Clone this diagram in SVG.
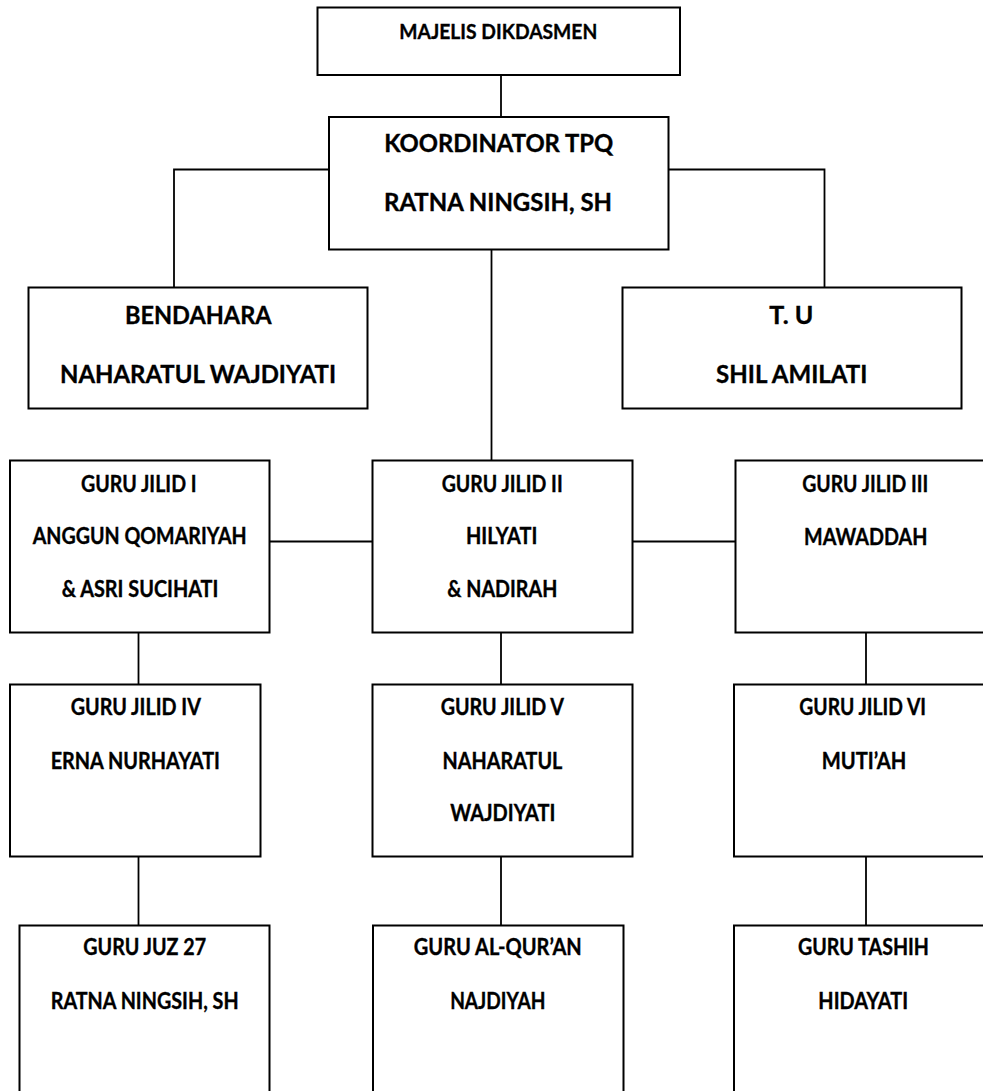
<svg xmlns="http://www.w3.org/2000/svg" width="983" height="1091" viewBox="0 0 983 1091">
<style>
.box{fill:#fff;stroke:#000;stroke-width:2}
.con{fill:none;stroke:#000;stroke-width:1.8}
text{font-family:Lato,"Liberation Sans",sans-serif;font-weight:bold;fill:#000;stroke:#000;stroke-width:0.35;text-anchor:middle}
.s{font-size:22px}
.m{font-size:20.5px}
.k{font-size:24px}
.b{font-size:25.5px}
</style>
<rect width="983" height="1091" fill="#fff"/>
<g id="connectors">
<line class="con" x1="501" y1="75" x2="501" y2="117"/>
<polyline class="con" points="329,169.5 174,169.5 174,287.5"/>
<polyline class="con" points="668.5,169.5 824.5,169.5 824.5,287.5"/>
<line class="con" x1="491.5" y1="249.5" x2="491.5" y2="460.5"/>
<line class="con" x1="269.5" y1="541.5" x2="372.5" y2="541.5" stroke-width="2"/>
<line class="con" x1="632.5" y1="541.5" x2="735.5" y2="541.5" stroke-width="2"/>
<line class="con" x1="138.5" y1="632.5" x2="138.5" y2="684.5"/>
<line class="con" x1="501" y1="632.5" x2="501" y2="684.5"/>
<line class="con" x1="866" y1="632.5" x2="866" y2="684.5"/>
<line class="con" x1="138.5" y1="856.5" x2="138.5" y2="925.5"/>
<line class="con" x1="501" y1="856.5" x2="501" y2="925.5"/>
<line class="con" x1="866" y1="856.5" x2="866" y2="925.5"/>
</g>
<g id="majelis">
<rect class="box" x="317.5" y="7.5" width="362.5" height="67.5"/>
<text class="m" x="498.3" y="39" textLength="198" lengthAdjust="spacingAndGlyphs">MAJELIS DIKDASMEN</text>
</g>
<g id="koordinator">
<rect class="box" x="329" y="117" width="339.5" height="132.5"/>
<text class="k" x="498.7" y="152" textLength="229" lengthAdjust="spacingAndGlyphs">KOORDINATOR TPQ</text>
<text class="k" x="498" y="211" textLength="228" lengthAdjust="spacingAndGlyphs">RATNA NINGSIH, SH</text>
</g>
<g id="bendahara">
<rect class="box" x="28.5" y="287.5" width="339" height="121"/>
<text class="b" x="198.3" y="324" textLength="146.7" lengthAdjust="spacingAndGlyphs">BENDAHARA</text>
<text class="b" x="198" y="383" textLength="276" lengthAdjust="spacingAndGlyphs">NAHARATUL WAJDIYATI</text>
</g>
<g id="tu">
<rect class="box" x="622.5" y="287.5" width="339" height="121"/>
<text class="b" x="791.3" y="324" textLength="44" lengthAdjust="spacingAndGlyphs">T. U</text>
<text class="b" x="791.7" y="383" textLength="151.3" lengthAdjust="spacingAndGlyphs">SHIL AMILATI</text>
</g>
<g id="jilid1">
<rect class="box" x="10" y="460.5" width="259.5" height="172"/>
<text class="s" x="138.8" y="491.5" textLength="115.7" lengthAdjust="spacingAndGlyphs">GURU JILID I</text>
<text class="s" x="139.7" y="544" textLength="214" lengthAdjust="spacingAndGlyphs">ANGGUN QOMARIYAH</text>
<text class="s" x="140" y="596.5" textLength="156.7" lengthAdjust="spacingAndGlyphs">&amp; ASRI SUCIHATI</text>
</g>
<g id="jilid2">
<rect class="box" x="372.5" y="460.5" width="260" height="172"/>
<text class="s" x="502.2" y="491.5" textLength="121" lengthAdjust="spacingAndGlyphs">GURU JILID II</text>
<text class="s" x="501.7" y="544" textLength="71.3" lengthAdjust="spacingAndGlyphs">HILYATI</text>
<text class="s" x="502.3" y="596.5" textLength="110" lengthAdjust="spacingAndGlyphs">&amp; NADIRAH</text>
</g>
<g id="jilid3">
<rect class="box" x="735.5" y="460.5" width="262" height="172"/>
<text class="s" x="865.3" y="491.5" textLength="126" lengthAdjust="spacingAndGlyphs">GURU JILID III</text>
<text class="s" x="865.7" y="545" textLength="123.3" lengthAdjust="spacingAndGlyphs">MAWADDAH</text>
</g>
<g id="jilid4">
<rect class="box" x="10" y="684.5" width="250.5" height="172"/>
<text class="s" x="135.8" y="715" textLength="130.3" lengthAdjust="spacingAndGlyphs">GURU JILID IV</text>
<text class="s" x="135.3" y="769" textLength="169.3" lengthAdjust="spacingAndGlyphs">ERNA NURHAYATI</text>
</g>
<g id="jilid5">
<rect class="box" x="372.5" y="684.5" width="260" height="172"/>
<text class="s" x="502.3" y="715" textLength="123.3" lengthAdjust="spacingAndGlyphs">GURU JILID V</text>
<text class="s" x="502.5" y="769" textLength="119.8" lengthAdjust="spacingAndGlyphs">NAHARATUL</text>
<text class="s" x="502.8" y="821" textLength="105.3" lengthAdjust="spacingAndGlyphs">WAJDIYATI</text>
</g>
<g id="jilid6">
<rect class="box" x="734" y="684.5" width="262" height="172"/>
<text class="s" x="862.7" y="715" textLength="126.7" lengthAdjust="spacingAndGlyphs">GURU JILID VI</text>
<text class="s" x="864" y="769" textLength="84.7" lengthAdjust="spacingAndGlyphs">MUTI’AH</text>
</g>
<g id="juz27">
<rect class="box" x="19.5" y="925.5" width="250" height="180"/>
<text class="s" x="144.7" y="955" textLength="122.7" lengthAdjust="spacingAndGlyphs">GURU JUZ 27</text>
<text class="s" x="144.7" y="1008.5" textLength="188" lengthAdjust="spacingAndGlyphs">RATNA NINGSIH, SH</text>
</g>
<g id="alquran">
<rect class="box" x="373" y="925.5" width="250.5" height="180"/>
<text class="s" x="497.8" y="955" textLength="168" lengthAdjust="spacingAndGlyphs">GURU AL-QUR’AN</text>
<text class="s" x="497.8" y="1008.5" textLength="95.3" lengthAdjust="spacingAndGlyphs">NAJDIYAH</text>
</g>
<g id="tashih">
<rect class="box" x="734" y="925.5" width="262" height="180"/>
<text class="s" x="863.5" y="955" textLength="131" lengthAdjust="spacingAndGlyphs">GURU TASHIH</text>
<text class="s" x="863.2" y="1008.5" textLength="89.7" lengthAdjust="spacingAndGlyphs">HIDAYATI</text>
</g>
</svg>
